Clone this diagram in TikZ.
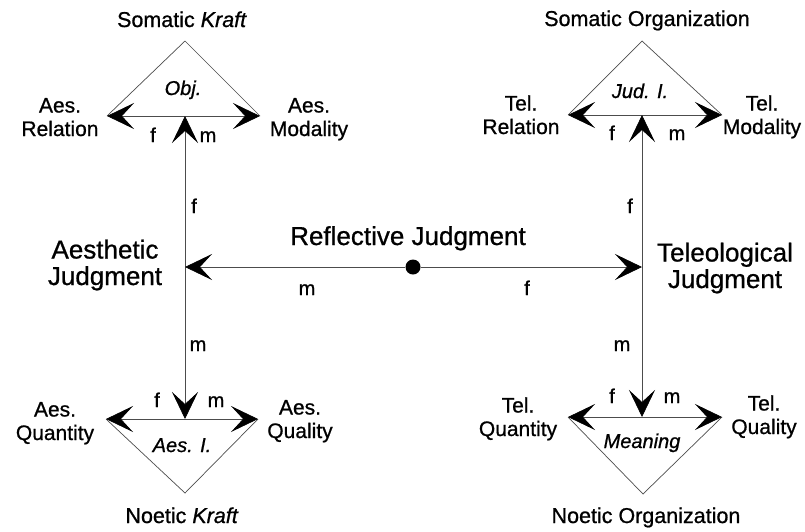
\documentclass[tikz,border=0pt]{standalone}
\usepackage{fontspec}
\setmainfont{Liberation Sans}[UprightFeatures={FakeBold=0.8}, ItalicFeatures={FakeBold=0.8}]
\usepackage{tikz}
\usetikzlibrary{arrows.meta}
\tikzstyle{category} = [font=\fontsize{21}{23.5}\selectfont, align=center, anchor=base, inner sep=0pt]
\tikzstyle{pole} = [font=\fontsize{21.5}{24}\selectfont, anchor=base, inner sep=0pt]
\tikzstyle{moment} = [font=\fontsize{20}{22}\selectfont\itshape, anchor=base, inner sep=0pt]
\tikzstyle{judgment} = [font=\fontsize{26}{26.5}\selectfont, align=center, anchor=base, inner sep=0pt]
\tikzstyle{letter} = [font=\fontsize{20}{22}\selectfont, anchor=base, inner sep=0pt]
\tikzstyle{side} = [line width=0.7pt, draw=black!70]
\tikzstyle{arrow} = [line width=0.7pt, draw=black!70, -{Stealth[length=27pt, width=26pt, inset=12pt, color=black]}]
\tikzstyle{dot} = [circle, fill=black, minimum size=15pt, inner sep=0pt]

\begin{document}
\begin{tikzpicture}[x=1pt, y=-1pt]
            \useasboundingbox (0,0) rectangle (805,531);

            % corners of the four triangles
            \coordinate (aes-top-apex) at (185,41);
            \coordinate (aes-top-base) at (185,116);
            \coordinate (aes-top-l) at (107,116);
            \coordinate (aes-top-r) at (260,116);
            \coordinate (tel-top-apex) at (642,41);
            \coordinate (tel-top-base) at (642,115);
            \coordinate (tel-top-l) at (568,115);
            \coordinate (tel-top-r) at (722,115);
            \coordinate (aes-bot-apex) at (185,493);
            \coordinate (aes-bot-base) at (185,419);
            \coordinate (aes-bot-l) at (106,419);
            \coordinate (aes-bot-r) at (258,419);
            \coordinate (tel-bot-apex) at (643,494);
            \coordinate (tel-bot-base) at (642,417);
            \coordinate (tel-bot-l) at (568,417);
            \coordinate (tel-bot-r) at (722,417);
            \coordinate (aes-hub) at (185,267);
            \coordinate (tel-hub) at (642,267);

            % top left
            \node (somatic-kraft) [pole] at (182,27) {Somatic \textit{Kraft}};
            \node (obj) [moment] at (183,95) {Obj.};
            \node (aes-relation) [category] at (60,136) {Aes.\\Relation};
            \node (aes-modality) [category] at (309,136) {Aes.\\Modality};
            \node (f-aes-top) [letter] at (153,142) {f};
            \node (m-aes-top) [letter] at (208,142) {m};

            % top right
            \node (somatic-org) [pole] at (647,26) {Somatic Organization};
            \node (jud-i) [moment] at (640,98) {Jud. I.};
            \node (tel-relation) [category] at (521,134) {Tel.\\Relation};
            \node (tel-modality) [category] at (762,134) {Tel.\\Modality};
            \node (f-tel-top) [letter] at (612,140) {f};
            \node (m-tel-top) [letter] at (677,140) {m};

            % middle
            \node (aes-judgment) [judgment] at (105,285) {Aesthetic\\Judgment};
            \node (tel-judgment) [judgment] at (725,288) {Teleological\\Judgment};
            \node (refl-judgment) [judgment] at (408,245) {Reflective Judgment};
            \node (rj-dot) [dot] at (413,267) {};
            \node (f-aes-up) [letter] at (194,213) {f};
            \node (m-aes-down) [letter] at (198,351) {m};
            \node (f-tel-up) [letter] at (630,213) {f};
            \node (m-tel-down) [letter] at (622,351) {m};
            \node (m-refl) [letter] at (307,295) {m};
            \node (f-refl) [letter] at (527,295) {f};

            % bottom left
            \node (aes-quantity) [category] at (55,440) {Aes.\\Quantity};
            \node (aes-quality) [category] at (300,438) {Aes.\\Quality};
            \node (f-aes-bot) [letter] at (157,407) {f};
            \node (m-aes-bot) [letter] at (216,407) {m};
            \node (aes-i) [moment] at (182,452) {Aes. I.};
            \node (noetic-kraft) [pole] at (182,523) {Noetic \textit{Kraft}};

            % bottom right
            \node (tel-quantity) [category] at (518,436) {Tel.\\Quantity};
            \node (tel-quality) [category] at (764,434) {Tel.\\Quality};
            \node (f-tel-bot) [letter] at (612,403) {f};
            \node (m-tel-bot) [letter] at (672,403) {m};
            \node (meaning) [moment] at (642,448) {Meaning};
            \node (noetic-org) [pole] at (646,523) {Noetic Organization};

            \draw [side] (aes-top-l) -- (aes-top-apex) -- (aes-top-r);
            \draw [side] (tel-top-l) -- (tel-top-apex) -- (tel-top-r);
            \draw [side] (aes-bot-l) -- (aes-bot-apex) -- (aes-bot-r);
            \draw [side] (tel-bot-l) -- (tel-bot-apex) -- (tel-bot-r);

            \draw [arrow] (aes-top-base) -- (aes-top-l);
            \draw [arrow] (aes-top-base) -- (aes-top-r);
            \draw [arrow] (tel-top-base) -- (tel-top-l);
            \draw [arrow] (tel-top-base) -- (tel-top-r);
            \draw [arrow] (aes-bot-base) -- (aes-bot-l);
            \draw [arrow] (aes-bot-base) -- (aes-bot-r);
            \draw [arrow] (tel-bot-base) -- (tel-bot-l);
            \draw [arrow] (tel-bot-base) -- (tel-bot-r);

            \draw [arrow] (aes-hub) -- (aes-top-base);
            \draw [arrow] (aes-hub) -- (aes-bot-base);
            \draw [arrow] (tel-hub) -- (tel-top-base);
            \draw [arrow] (tel-hub) -- (tel-bot-base);
            \draw [arrow] (rj-dot) -- (aes-hub);
            \draw [arrow] (rj-dot) -- (tel-hub);
        \end{tikzpicture}
\end{document}
